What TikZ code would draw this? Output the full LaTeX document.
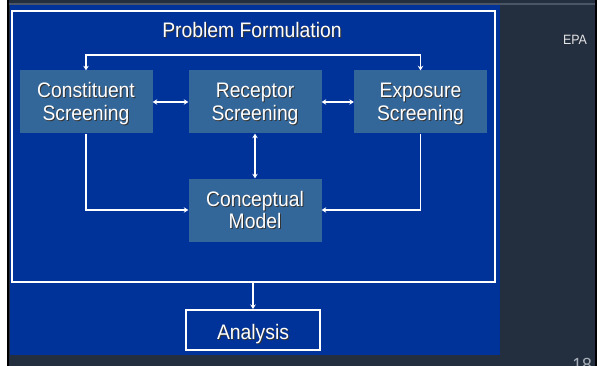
\documentclass[tikz,border=0pt]{standalone}
\usepackage{fontspec}
\setmainfont{Liberation Sans}
% slightly condensed face: the slide lettering is tall and narrow
\newfontfamily\slidefont[FakeStretch=0.92]{Liberation Sans}
\usetikzlibrary{arrows.meta}
\definecolor{slidebg}{HTML}{232F3F}
\definecolor{slideline}{HTML}{4A5566}
\definecolor{panelblue}{HTML}{003399}
\definecolor{boxblue}{HTML}{336699}
\definecolor{footgray}{HTML}{A9B0BA}
% white text with a soft dark drop shadow
\newcommand\shd[1]{\makebox[0pt][l]{\kern1pt\raisebox{-1pt}{\color{black!80}#1}}#1}
% two-line box label with fixed line height and depth
\newcommand\twoline[2]{\rule{0pt}{19pt}\shd{#1}\\\rule[-4pt]{0pt}{4pt}\shd{#2}}
\begin{document}
\begin{tikzpicture}[x=1pt,y=-1pt,
  big/.style={font=\slidefont\fontsize{21}{22.5}\selectfont},
  box/.style={big, fill=boxblue, minimum width=133pt, minimum height=63pt,
    inner sep=0pt, text=white, align=center},
  tip/.tip={Stealth[length=4.5pt,width=5.5pt]},
  link/.style={draw=white, line width=1.8pt, -tip},
  dlink/.style={draw=white, line width=1.8pt, tip-tip}]
\useasboundingbox (0,0) rectangle (604,366);
\clip (0,0) rectangle (604,366);
% slide background
\fill[white] (0,0) rectangle (604,366);
\fill[black] (7,0) rectangle (597,366);
\fill[slidebg] (9,0) rectangle (595,366);
\fill[slideline] (9,3.3) rectangle (595,5);
\fill[panelblue] (10,5) rectangle (500,355);
% outer frame of the formulation stage
\node[draw=white, line width=2pt, minimum width=483pt, minimum height=271pt,
  inner sep=0pt] (frame) at (253.5,146.5) {};
\node[big, anchor=base, text=white] (title) at (252,38) {\shd{Problem Formulation}};
% screening boxes
\node[box] (cons) at (86,102) {\twoline{Constituent}{Screening}};
\node[box] (rec) at (255,102) {\twoline{Receptor}{Screening}};
\node[box] (expo) at (420.5,102) {\twoline{Exposure}{Screening}};
\node[box] (concept) at (255,210) {\twoline{Conceptual}{Model}};
% analysis stage
\node[big, draw=white, line width=2pt, minimum width=134pt, minimum height=40pt,
  inner sep=0pt, text height=19pt, text depth=1pt, text=white] (ana) at (253,330) {\shd{Analysis}};
% header and page number
\node[anchor=base, text=gray!20, font=\slidefont\fontsize{13.5}{15}\selectfont] (epa) at (575,45) {EPA};
\node[anchor=base, text=footgray, font=\slidefont\fontsize{19}{20}\selectfont] (num) at (582,371) {18};
% connectors
\draw[dlink] (cons.north) -- ++(0,-15) -| (expo.north);
\draw[dlink] (cons.east) -- (rec.west);
\draw[dlink] (rec.east) -- (expo.west);
\draw[dlink] (rec.south) -- (concept.north);
\draw[link] (cons.south) |- (concept.west);
\draw[link] (expo.south) |- (concept.east);
\draw[link] (ana.north |- frame.south) -- (ana.north);
\end{tikzpicture}
\end{document}
